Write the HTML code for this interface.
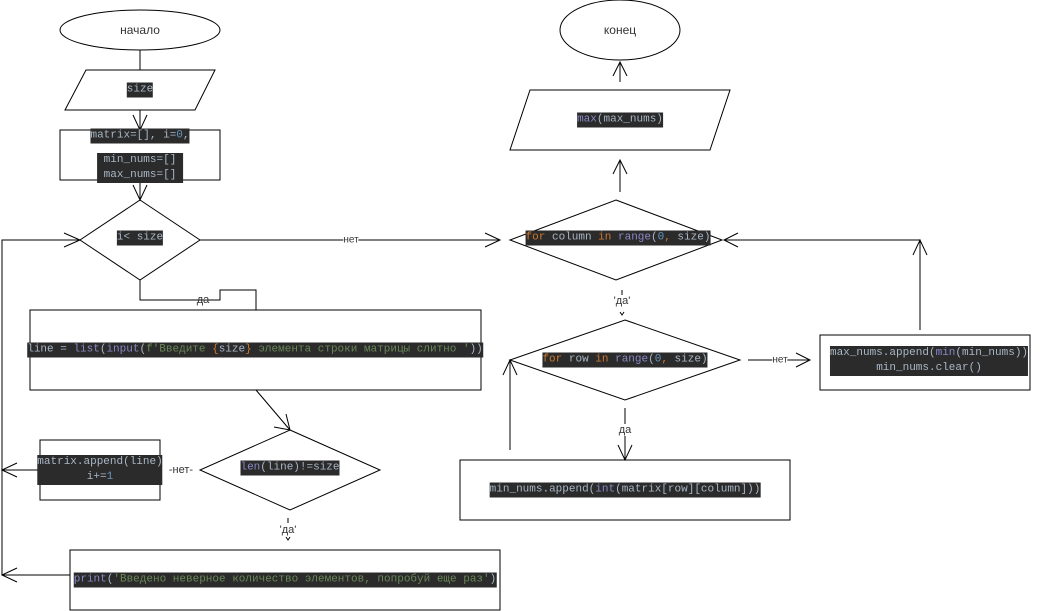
<!DOCTYPE html>
<html><head><meta charset="utf-8"><style>
body{margin:0;width:1041px;height:611px;background:#fff;position:relative;overflow:hidden}
svg{position:absolute;left:0;top:0}
.c{position:absolute;transform:translate(-50%,-50%);font:11px/15px "Liberation Mono",monospace;background:#2b2b2b;color:#a9b7c6;white-space:pre;text-align:center}
.l{position:absolute;transform:translate(-50%,-50%);font:12px "Liberation Sans",sans-serif;color:#333;background:#fff;white-space:pre}
.p{color:#8888c6}.o{color:#cc7832}.g{color:#6a8759}.b{color:#6897bb}
</style></head><body>
<svg width="1041" height="611" fill="none" stroke="#000" stroke-width="1">
<ellipse cx="140" cy="30" rx="80" ry="20"/>
<line x1="140" y1="50" x2="140" y2="70"/>
<polygon points="86,70 215,70 195,110 65,110"/>
<line x1="140" y1="110" x2="140" y2="130"/><path d="M133,115 L140,130 L147,115"/>
<rect x="60" y="130" width="160" height="50"/>
<line x1="140" y1="180" x2="140" y2="200"/><path d="M133,185 L140,200 L147,185"/>
<polygon points="140,200 200,240 140,280 80,240"/>
<polyline points="2,575 2,240 80,240"/><path d="M64,233 L80,240 L64,247"/>
<line x1="200" y1="240" x2="500" y2="240"/><path d="M485,233 L500,240 L485,247"/>
<polyline points="140,280 140,300 220,300 220,290 256,290 256,310"/>
<rect x="30" y="310" width="451" height="80"/>
<line x1="256" y1="390" x2="290" y2="430"/><path d="M274,427 L290,430 L286,414"/>
<polygon points="290,430 380,470 290,510 200,470"/>
<rect x="40" y="440" width="120" height="60"/>
<line x1="40" y1="470" x2="2" y2="470"/><path d="M17,463 L2,470 L17,477"/>
<line x1="288" y1="518" x2="288" y2="523"/><path d="M286,537 L288,540 L290,537"/>
<rect x="70" y="550" width="430" height="60"/>
<line x1="70" y1="575" x2="2" y2="575"/><path d="M17,568 L2,575 L17,582"/>
<ellipse cx="620" cy="30" rx="60" ry="30"/>
<line x1="620" y1="82" x2="620" y2="62"/><path d="M613,76 L620,62 L627,76"/>
<polygon points="530,90 730,90 710,150 510,150"/>
<line x1="620" y1="192" x2="620" y2="160"/><path d="M613,174 L620,160 L627,174"/>
<polygon points="616,200 722,240 616,280 510,240"/>
<polyline points="920,330 920,240 724,240"/><path d="M738,233 L724,240 L738,247"/>
<path d="M913,255 L920,240 L927,255"/>
<line x1="622" y1="290" x2="622" y2="295"/><path d="M620,312 L622,315 L624,312"/>
<polygon points="625,320 740,360 625,400 510,360"/>
<line x1="748" y1="360" x2="810" y2="360"/><path d="M796,353 L810,360 L796,367"/>
<rect x="820" y="335" width="210" height="55"/>
<line x1="625" y1="408" x2="625" y2="460"/><path d="M618,445 L625,460 L632,445"/>
<rect x="460" y="460" width="330" height="60"/>
<line x1="510" y1="450" x2="510" y2="360"/><path d="M503,375 L510,360 L517,375"/>
</svg>
<div class="l" style="left:140px;top:30px">начало</div>
<div class="l" style="left:620px;top:30px">конец</div>
<div class="c" style="left:140px;top:90px">size</div>
<div class="c" style="left:140px;top:136px">matrix=[], i=<span class="b">0</span>,</div>
<div class="c" style="left:140px;top:168px"> min_nums=[] 
 max_nums=[] </div>
<div class="c" style="left:140px;top:238px">i&lt; size</div>
<div class="l" style="left:351px;top:240px;font-size:10px">нет</div>
<div class="l" style="left:203px;top:300px;font-size:11px;background:none">да</div>
<div class="c" style="left:255px;top:350px">line = <span class="p">list</span>(<span class="p">input</span>(<span class="g">f'Введите </span><span class="o">{</span>size<span class="o">}</span><span class="g"> элемента строки матрицы слитно '</span>))</div>
<div class="c" style="left:290px;top:468px"><span class="p">len</span>(line)!=size</div>
<div class="c" style="left:100px;top:470px">matrix.append(line)
i+=<span class="b">1</span></div>
<div class="l" style="left:181px;top:470px;font-size:11px">-нет-</div>
<div class="l" style="left:288px;top:530px;font-size:11px">'да'</div>
<div class="c" style="left:285px;top:580px"><span class="p">print</span>(<span class="g">'Введено неверное количество элементов, попробуй еще раз'</span>)</div>
<div class="c" style="left:620px;top:120px"><span class="p">max</span>(max_nums)</div>
<div class="c" style="left:618px;top:238px"><span class="o">for</span> column <span class="o">in</span> <span class="p">range</span>(<span class="b">0</span><span class="o">,</span> size)</div>
<div class="l" style="left:622px;top:301px;font-size:11px">'да'</div>
<div class="c" style="left:625px;top:360px"><span class="o">for</span> row <span class="o">in</span> <span class="p">range</span>(<span class="b">0</span><span class="o">,</span> size)</div>
<div class="l" style="left:780px;top:360px;font-size:10px">нет</div>
<div class="c" style="left:929px;top:361px">max_nums.append(<span class="p">min</span>(min_nums))
min_nums.clear()</div>
<div class="l" style="left:625px;top:430px;font-size:11px">да</div>
<div class="c" style="left:625px;top:490px">min_nums.append(<span class="p">int</span>(matrix[row][column]))</div>
</body></html>
